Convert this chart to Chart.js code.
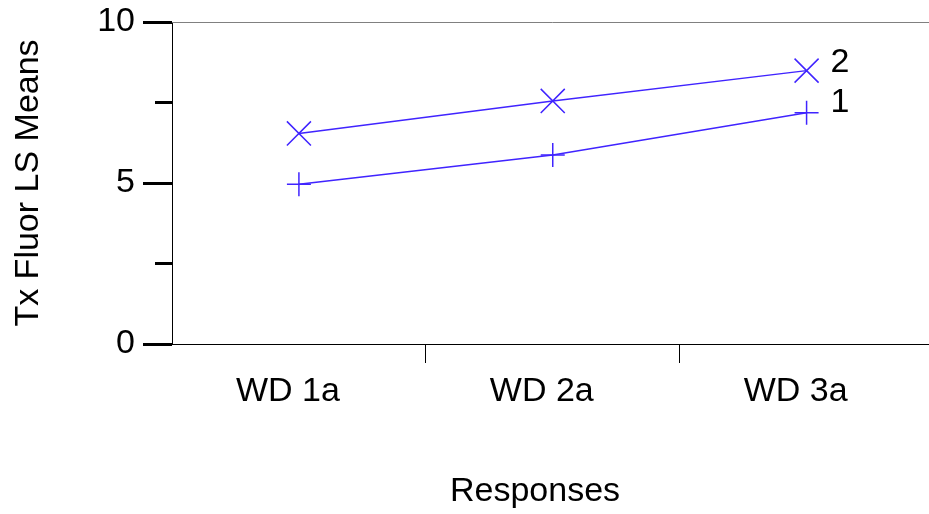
<!DOCTYPE html>
<html>
<head>
<meta charset="utf-8">
<script src="https://cdn.jsdelivr.net/npm/chart.js@4/dist/chart.umd.min.js"></script>
<style>
  body { margin: 0; overflow: hidden; background: #fff; }
  #wrap { width: 952px; height: 514px; }
</style>
</head>
<body>
<div id="wrap"><canvas id="lsChart" width="952" height="514"></canvas></div>
<script>
// values
const categories = ['WD 1a', 'WD 2a', 'WD 3a'];
const series1 = [4.96, 5.87, 7.18];   // "1", plus markers
const series2 = [6.54, 7.55, 8.49];   // "2", x markers
const seriesNames = ['1', '2'];
const yTicks = [0, 2.5, 5, 7.5, 10];

const lineColor = 'rgb(64, 36, 255)';
const fontFam = '"Liberation Sans", Arial, sans-serif';

// top frame line, minor y ticks, end labels, x title
const extras = {
  id: 'extras',
  afterDraw(chart) {
    const ctx = chart.ctx;
    const area = chart.chartArea;
    const x = chart.scales.x;
    const y = chart.scales.y;
    ctx.save();
    ctx.strokeStyle = '#808080';
    ctx.lineWidth = 1;
    ctx.beginPath();
    ctx.moveTo(area.left, area.top + 0.5);
    ctx.lineTo(area.right, area.top + 0.5);
    ctx.stroke();

    // minor ticks
    ctx.strokeStyle = '#000';
    ctx.lineWidth = 3;
    yTicks.filter(v => v % 5 !== 0).forEach(v => {
      const py = y.getPixelForValue(v);
      ctx.beginPath();
      ctx.moveTo(area.left - 17, py);
      ctx.lineTo(area.left, py);
      ctx.stroke();
    });

    // series labels next to last point
    ctx.fillStyle = '#000';
    ctx.font = '34px ' + fontFam;
    ctx.textBaseline = 'middle';
    ctx.textAlign = 'left';
    const last = categories.length - 1;
    ctx.fillText(seriesNames[1], x.getPixelForValue(last) + 24, y.getPixelForValue(series2[last]) - 8);
    ctx.fillText(seriesNames[0], x.getPixelForValue(last) + 24, y.getPixelForValue(series1[last]) - 10);

    ctx.textAlign = 'center';
    ctx.fillText('Responses', 535, 492);
    ctx.restore();
  }
};

new Chart(document.getElementById('lsChart'), {
  type: 'line',
  data: {
    labels: categories,
    datasets: [
      {
        label: seriesNames[0],
        data: series1,
        borderColor: lineColor,
        backgroundColor: lineColor,
        borderWidth: 1.5,
        pointStyle: 'cross',
        pointRadius: 12,
        pointBorderWidth: 1.5,
        tension: 0
      },
      {
        label: seriesNames[1],
        data: series2,
        borderColor: lineColor,
        backgroundColor: lineColor,
        borderWidth: 1.5,
        pointStyle: 'crossRot',
        pointRadius: 17,
        pointBorderWidth: 1.5,
        tension: 0
      }
    ]
  },
  options: {
    responsive: false,
    animation: false,
    layout: { padding: { top: 22, right: 0, left: 0, bottom: 0 } },
    plugins: { legend: { display: false }, tooltip: { enabled: false } },
    scales: {
      x: {
        type: 'category',
        offset: true,
        afterFit: s => { s.height = 170; s.paddingLeft = 0; s.paddingRight = 0; },
        grid: {
          offset: true,
          drawOnChartArea: false,
          tickLength: 19,
          tickWidth: 1,
          tickColor: c => (c.index > 0 && c.index < categories.length) ? '#000' : 'rgba(0,0,0,0)'
        },
        border: { color: '#000', width: 1 },
        ticks: {
          autoSkip: false,
          maxRotation: 0,
          labelOffset: -11,
          padding: 8,
          color: '#000',
          font: { family: fontFam, size: 34 }
        }
      },
      y: {
        min: 0,
        max: 10,
        afterFit: s => { s.width = 172; s.paddingTop = 0; s.paddingBottom = 0; },
        afterBuildTicks: s => { s.ticks = yTicks.map(v => ({ value: v })); },
        grid: {
          drawOnChartArea: false,
          tickLength: 29,
          tickWidth: 3,
          tickColor: c => (c.tick && c.tick.value % 5 === 0) ? '#000' : 'rgba(0,0,0,0)'
        },
        border: { color: '#000', width: 1 },
        ticks: {
          padding: 8,
          color: '#000',
          font: { family: fontFam, size: 34 },
          callback: v => (v % 5 === 0 ? String(v) : '')
        },
        title: {
          display: true,
          text: 'Tx Fluor LS Means',
          color: '#000',
          font: { family: fontFam, size: 34 },
          padding: { top: 8, bottom: 0 }
        }
      }
    }
  },
  plugins: [extras]
});
</script>
</body>
</html>
